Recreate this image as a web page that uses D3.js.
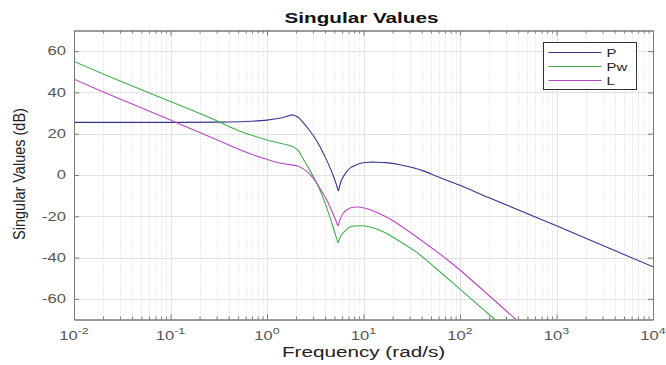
<!DOCTYPE html>
<html>
<head>
<meta charset="utf-8">
<script src="https://cdn.jsdelivr.net/npm/d3@7/dist/d3.min.js"></script>
<style>
  html, body { margin: 0; padding: 0; background: #fff; }
  svg { display: block; font-family: "Liberation Sans", Arial, Helvetica, sans-serif; }
</style>
</head>
<body>
<svg id="chart" width="666" height="365"></svg>
<script>
// Singular values of P, Pw and L (dB) versus frequency (rad/s)
const seriesNames = ["P", "Pw", "L"];
const seriesColors = ["#35358f", "#3fae4a", "#b947c2"];

const freqP = [0.01, 0.03, 0.1, 0.3, 0.6, 1.0, 1.4, 1.86, 2.1, 2.36, 2.8, 3.27, 3.7, 4.15, 4.53, 4.87, 5.2, 5.48, 5.62, 5.94, 6.5, 7.25, 8.5, 9.9, 11.5, 13.7, 17, 23.9, 32, 41.7, 60, 100, 200, 1000, 10000];
const dbP   = [25.5, 25.5, 25.5, 25.6, 25.9, 26.6, 27.6, 29.1, 28.0, 25.5, 21.2, 16.6, 12.0, 7.2, 3.2, -0.5, -4.2, -7.6, -5.8, -2.3, 0.8, 3.3, 5.0, 5.9, 6.2, 6.2, 6.0, 5.0, 3.6, 2.0, -1.0, -5.0, -11.0, -24.6, -44.5];

const freqPw = [0.01, 0.03, 0.1, 0.27, 0.5, 0.67, 1.0, 1.4, 1.6, 1.88, 2.1, 2.36, 2.8, 3.27, 3.7, 4.15, 4.6, 5.0, 5.3, 5.45, 5.65, 6.0, 6.4, 7.25, 9.2, 11.7, 16, 20, 35.6, 55, 100, 230, 300];
const dbPw   = [55.0, 45.5, 35.6, 27.3, 21.6, 19.5, 17.0, 15.3, 14.7, 13.6, 11.9, 8.0, 2.0, -3.9, -9.5, -15.8, -22.0, -27.5, -31.2, -32.9, -30.8, -28.6, -27.3, -25.2, -24.6, -25.2, -27.5, -30.0, -37.5, -44.8, -55.3, -70.0, -74.6];

const freqL = [0.01, 0.03, 0.1, 0.27, 0.5, 0.67, 1.0, 1.4, 1.88, 2.1, 2.36, 2.8, 3.27, 3.7, 4.15, 4.6, 5.0, 5.3, 5.45, 5.7, 6.2, 7.25, 8.8, 11.7, 14, 16, 20, 35.6, 78.7, 100, 380, 500];
const dbL   = [46.4, 36.8, 26.6, 18.0, 12.6, 10.3, 7.6, 5.7, 4.8, 4.2, 3.1, 0.2, -3.9, -8.0, -12.0, -16.5, -20.4, -23.2, -24.6, -21.7, -18.4, -16.0, -15.5, -16.8, -18.3, -19.6, -22.0, -30.0, -42.0, -46.0, -70.0, -75.0];

const xTickExps = [-2, -1, 0, 1, 2, 3, 4];
const yTicks = [-60, -40, -20, 0, 20, 40, 60];

const titleText = "Singular Values";
const xLabelText = "Frequency (rad/s)";
const yLabelText = "Singular Values (dB)";

const seriesFreq = [freqP, freqPw, freqL];
const seriesDb = [dbP, dbPw, dbL];

// layout; the figure's text is drawn horizontally widened
const plot = { left: 74, right: 653, top: 30.5, bottom: 319.5 };
const widen = 1.38;
const svg = d3.select("#chart");

const x = d3.scaleLog().domain([1e-2, 1e4]).range([plot.left, plot.right]);
const y = d3.scaleLinear().domain([-70, 70]).range([plot.bottom, plot.top]);

// minor vertical grid (dotted)
const minorTicks = [];
for (let e = -2; e < 4; e++) {
  for (let m = 2; m <= 9; m++) minorTicks.push(m * Math.pow(10, e));
}
const grid = svg.append("g");
grid.selectAll("line.minor").data(minorTicks).join("line")
  .attr("class", "minor")
  .attr("x1", d => Math.round(x(d)) + 0.5).attr("x2", d => Math.round(x(d)) + 0.5)
  .attr("y1", plot.top).attr("y2", plot.bottom)
  .attr("stroke", "#d8d8d8").attr("stroke-width", 1)
  .attr("stroke-dasharray", "1,2");

// major grid
grid.selectAll("line.vmajor").data(xTickExps.slice(1, -1)).join("line")
  .attr("class", "vmajor")
  .attr("x1", d => Math.round(x(Math.pow(10, d))) + 0.5).attr("x2", d => Math.round(x(Math.pow(10, d))) + 0.5)
  .attr("y1", plot.top).attr("y2", plot.bottom)
  .attr("stroke", "#e2e2e2").attr("stroke-width", 1);
grid.selectAll("line.hmajor").data(yTicks).join("line")
  .attr("class", "hmajor")
  .attr("x1", plot.left).attr("x2", plot.right)
  .attr("y1", d => Math.round(y(d)) + 0.5).attr("y2", d => Math.round(y(d)) + 0.5)
  .attr("stroke", "#e2e2e2").attr("stroke-width", 1);

// curves
svg.append("clipPath").attr("id", "plotClip")
  .append("rect")
  .attr("x", plot.left).attr("y", plot.top)
  .attr("width", plot.right - plot.left).attr("height", plot.bottom - plot.top);

const line = d3.line()
  .x(d => x(d[0]))
  .y(d => y(d[1]))
  .curve(d3.curveCatmullRom.alpha(0.5));

const curves = svg.append("g").attr("clip-path", "url(#plotClip)");
seriesNames.forEach((name, i) => {
  const pts = seriesFreq[i].map((f, k) => [f, seriesDb[i][k]]);
  curves.append("path")
    .datum(pts)
    .attr("d", line)
    .attr("fill", "none")
    .attr("stroke", seriesColors[i])
    .attr("stroke-width", 1.1);
});

// axes with inward ticks
const axisColor = "#7a7a7a";
const tickText = "#555";

const xBottom = d3.axisBottom(x)
  .tickValues(xTickExps.map(e => Math.pow(10, e)))
  .tickSizeInner(-5).tickSizeOuter(0).tickFormat("");
const xTop = d3.axisTop(x)
  .tickValues(xTickExps.map(e => Math.pow(10, e)))
  .tickSizeInner(-5).tickSizeOuter(0).tickFormat("");
const xBottomMinor = d3.axisBottom(x).tickValues(minorTicks).tickSizeInner(-3).tickSizeOuter(0).tickFormat("");
const xTopMinor = d3.axisTop(x).tickValues(minorTicks).tickSizeInner(-3).tickSizeOuter(0).tickFormat("");
const yLeft = d3.axisLeft(y).tickValues(yTicks).tickSizeInner(-5).tickSizeOuter(0).tickFormat("");
const yRight = d3.axisRight(y).tickValues(yTicks).tickSizeInner(-5).tickSizeOuter(0).tickFormat("");

function styleAxis(g) {
  g.selectAll("path.domain").attr("stroke", axisColor);
  g.selectAll(".tick line").attr("stroke", axisColor);
}
svg.append("g").attr("transform", `translate(0,${plot.bottom})`).call(xBottom).call(styleAxis);
svg.append("g").attr("transform", `translate(0,${plot.top})`).call(xTop).call(styleAxis);
svg.append("g").attr("transform", `translate(0,${plot.bottom})`).call(xBottomMinor).call(styleAxis);
svg.append("g").attr("transform", `translate(0,${plot.top})`).call(xTopMinor).call(styleAxis);
svg.append("g").attr("transform", `translate(${plot.left},0)`).call(yLeft).call(styleAxis);
svg.append("g").attr("transform", `translate(${plot.right},0)`).call(yRight).call(styleAxis);

// x tick labels as powers of ten
const xLabels = svg.append("g").attr("font-size", 12).attr("fill", tickText);
xTickExps.forEach(e => {
  const t = xLabels.append("text")
    .attr("transform", `translate(${x(Math.pow(10, e))},340) scale(${widen},1)`)
    .attr("text-anchor", "middle");
  t.append("tspan").text("10");
  t.append("tspan").attr("dy", -6).attr("font-size", 9).text(String(e));
});

// y tick labels
svg.append("g").attr("font-size", 12).attr("fill", tickText)
  .selectAll("text").data(yTicks).join("text")
  .attr("transform", d => `translate(${plot.left - 8},${y(d) + 4.3}) scale(${widen},1)`)
  .attr("text-anchor", "end")
  .text(d => d);

// title and axis labels
svg.append("text")
  .attr("transform", `translate(${(plot.left + plot.right) / 2 - 2},23) scale(${widen},1)`)
  .attr("text-anchor", "middle")
  .attr("font-size", 15).attr("font-weight", "bold").attr("fill", "#111")
  .text(titleText);

svg.append("text")
  .attr("transform", `translate(${(plot.left + plot.right) / 2},357) scale(${widen},1)`)
  .attr("text-anchor", "middle")
  .attr("font-size", 15).attr("fill", "#222")
  .text(xLabelText);

svg.append("text")
  .attr("transform", `translate(25,${(plot.top + plot.bottom) / 2 - 1}) scale(1.15,1) rotate(-90)`)
  .attr("text-anchor", "middle")
  .attr("font-size", 14.5).attr("fill", "#222")
  .text(yLabelText);

// legend
const legend = { x: 543.5, y: 42.5, w: 93, h: 47 };
const lg = svg.append("g");
lg.append("rect")
  .attr("x", legend.x).attr("y", legend.y)
  .attr("width", legend.w).attr("height", legend.h)
  .attr("fill", "#fff").attr("stroke", "#333").attr("stroke-width", 1);
seriesNames.forEach((name, i) => {
  const cy = legend.y + 10 + i * 14;
  lg.append("line")
    .attr("x1", legend.x + 5).attr("x2", legend.x + 58)
    .attr("y1", cy).attr("y2", cy)
    .attr("stroke", seriesColors[i]).attr("stroke-width", 1.1);
  lg.append("text")
    .attr("transform", `translate(${legend.x + 63},${cy + 4.3}) scale(1.3,1)`)
    .attr("font-size", 11.5).attr("fill", "#222")
    .text(name);
});
</script>
</body>
</html>
